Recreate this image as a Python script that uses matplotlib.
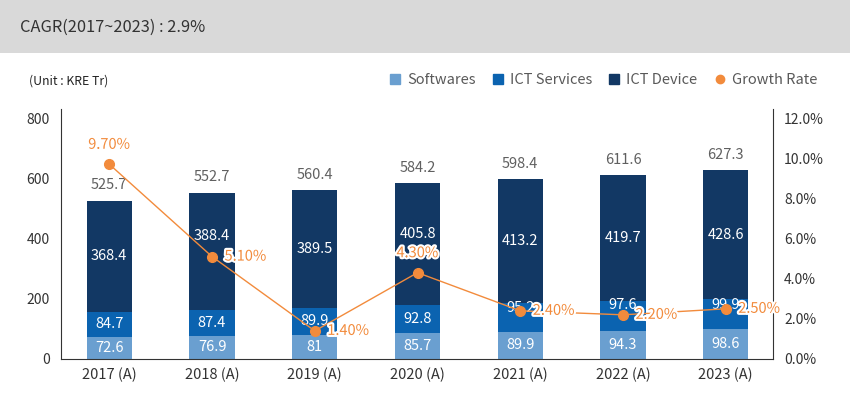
import numpy as np
import matplotlib.pyplot as plt
import matplotlib.patheffects as pe
from matplotlib.lines import Line2D
from matplotlib.patches import Rectangle

plt.rcParams['font.family'] = ['Noto Sans CJK KR', 'DejaVu Sans']

# data
years = ["2017 (A)", "2018 (A)", "2019 (A)", "2020 (A)", "2021 (A)", "2022 (A)", "2023 (A)"]
softwares = [72.6, 76.9, 81, 85.7, 89.9, 94.3, 98.6]
ict_services = [84.7, 87.4, 89.9, 92.8, 95.2, 97.6, 99.9]
ict_device = [368.4, 388.4, 389.5, 405.8, 413.2, 419.7, 428.6]
totals = [525.7, 552.7, 560.4, 584.2, 598.4, 611.6, 627.3]
growth = [9.70, 5.10, 1.40, 4.30, 2.40, 2.20, 2.50]

# label placement for the growth rate values
growth_pos = ["above", "right", "right", "above", "right", "right", "right"]
# small upward nudges (points) so segment labels clear the growth labels
svc_nudge = [0, 0, 0, 0, 7, 8, 7]
dev_nudge = [0, 11, 0, 7, 0, 0, 0]

c_sw = "#6a9fd0"
c_svc = "#0b63b0"
c_dev = "#123864"
c_org = "#f28b3c"

fig = plt.figure(figsize=(8.5, 3.99), dpi=100)

# header band
fig.patches.append(Rectangle((0, 1 - 53 / 399), 1, 53 / 399, transform=fig.transFigure,
                             facecolor="#d9d9d9", edgecolor="none", zorder=0))
fig.text(20 / 850, 1 - 27 / 399, "CAGR(2017~2023) : 2.9%", fontsize=11.8, color="#333333",
         va="center", ha="left")
fig.text(29 / 850, 1 - 81 / 399, "(Unit : KRE Tr)", fontsize=8.8, color="#222222",
         va="center", ha="left")

ax = fig.add_axes([61 / 850, 1 - 359 / 399, (773 - 61) / 850, (359 - 109) / 399])
x = np.arange(len(years))
w = 0.44

ax.bar(x, softwares, w, color=c_sw, zorder=2)
ax.bar(x, ict_services, w, bottom=softwares, color=c_svc, zorder=2)
bottom3 = np.array(softwares) + np.array(ict_services)
ax.bar(x, ict_device, w, bottom=bottom3, color=c_dev, zorder=2)

for i in range(len(years)):
    ax.text(x[i], softwares[i] / 2, "{:g}".format(softwares[i]), ha="center", va="center",
            color="white", fontsize=10.5, zorder=3)
    ax.annotate("{:g}".format(ict_services[i]), (x[i], softwares[i] + ict_services[i] / 2),
                xytext=(0, svc_nudge[i]), textcoords="offset points",
                ha="center", va="center", color="white", fontsize=10.5, zorder=3)
    ax.annotate("{:g}".format(ict_device[i]), (x[i], bottom3[i] + ict_device[i] / 2),
                xytext=(0, dev_nudge[i]), textcoords="offset points",
                ha="center", va="center", color="white", fontsize=10.5, zorder=3)
    top = bottom3[i] + ict_device[i]
    ax.annotate("{:g}".format(totals[i]), (x[i], top), xytext=(0, 11), textcoords="offset points",
                ha="center", va="center", color="#606060", fontsize=10.5)

ax.set_xlim(-0.47, 6.46)
ax.set_ylim(0, 830)
ax.set_yticks([0, 200, 400, 600, 800])
ax.set_xticks(x)
ax.set_xticklabels(years)
ax.tick_params(axis="both", length=0, labelsize=10.5, colors="#333333", pad=6)
ax.tick_params(axis="y", labelsize=10, pad=8)
for s in ["top", "right"]:
    ax.spines[s].set_visible(False)
ax.spines["left"].set_color("#333333")
ax.spines["bottom"].set_color("#333333")

ax2 = ax.twinx()
ax2.plot(x, growth, color=c_org, lw=1, marker="o", ms=7, zorder=5)
ax2.set_ylim(0, 12.45)
ax2.set_yticks(np.arange(0, 12.1, 2))
ax2.set_yticklabels(["{:.1f}%".format(v) for v in np.arange(0, 12.1, 2)])
ax2.tick_params(axis="y", length=0, labelsize=10, colors="#333333", pad=8)
for s in ["top", "left", "bottom"]:
    ax2.spines[s].set_visible(False)
ax2.spines["right"].set_color("#333333")

stroke = [pe.withStroke(linewidth=3, foreground="white")]
for i, g in enumerate(growth):
    if growth_pos[i] == "above":
        off, ha = (0, 14), "center"
    else:
        off, ha = (9, 0), "left"
    ax2.annotate("{:.2f}%".format(g), (x[i], g), xytext=off, textcoords="offset points",
                 ha=ha, va="center", color=c_org, fontsize=10.5, path_effects=stroke, zorder=6)

handles = [
    Line2D([], [], ls="none", marker="s", ms=7, color=c_sw),
    Line2D([], [], ls="none", marker="s", ms=7, color=c_svc),
    Line2D([], [], ls="none", marker="s", ms=7, color=c_dev),
    Line2D([], [], ls="none", marker="o", ms=6, color=c_org),
]
fig.legend(handles, ["Softwares", "ICT Services", "ICT Device", "Growth Rate"],
           loc="center right", bbox_to_anchor=(830 / 850, 1 - 80 / 399), ncol=4, frameon=False,
           fontsize=10.5, labelcolor="#595959", handletextpad=0.4, columnspacing=1.15,
           handlelength=0.8)

fig.savefig("out.png", dpi=100)
